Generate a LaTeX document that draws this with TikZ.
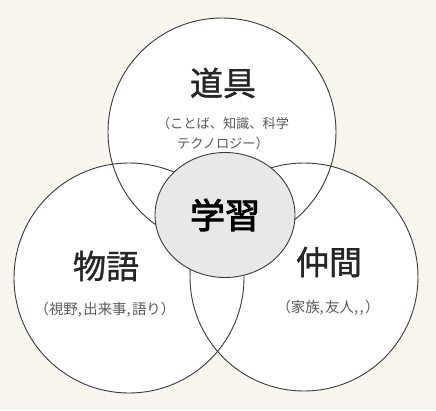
\documentclass[tikz,border=0pt]{standalone}
\usepackage{fontspec}
\newfontfamily\jp{Noto Sans CJK JP}
\newfontfamily\jphead{Noto Sans CJK JP}[FakeBold=1.2]
\newfontfamily\jphub{Noto Sans CJK JP}[FakeBold=2.6]
\usepackage{tikz}
\usetikzlibrary{shapes.geometric}
\definecolor{paper}{HTML}{F8F5EE}
\definecolor{hub}{HTML}{E8E8E8}
\definecolor{ink}{HTML}{3A3A3A}
\newcommand{\cm}{,\hspace{1.5pt}}
\begin{document}
\begin{tikzpicture}[x=1pt,y=-1pt]
            \tikzstyle{area}=[circle, fill=white, inner sep=0pt]
            \tikzstyle{rim}=[draw=ink, line width=0.9pt]
            \tikzstyle{hubnode}=[ellipse, fill=hub, draw=ink, line width=0.9pt, minimum width=140pt, minimum height=125pt, inner sep=0pt]
            \tikzstyle{title}=[text=black!85, font=\jphead\fontsize{33}{36}\selectfont]
            \tikzstyle{note}=[text=black!65, align=center, font=\jp\fontsize{13.2}{20}\selectfont]
            \fill[paper] (0,0) rectangle (436,410);
            \useasboundingbox (0,0) rectangle (436,410);

            \node[area, minimum size=228pt] (tool) at (222,132){};
            \node[area, minimum size=230pt] (story) at (129,278){};
            \node[area, minimum size=228pt] (peer) at (304,277){};
            \foreach \n/\r in {tool/114, story/115, peer/114}
                \draw[rim] (\n.center) circle[radius=\r];

            \node[hubnode] (learn) at (225,215){\jphub\fontsize{35}{40}\selectfont 学習};

            \node[title] (toolT) at (223,83){道具};
            \node[note] (toolN) at (223,133){（ことば、知識、科学\\テクノロジー）};
            \node[title] (storyT) at (106,266){物語};
            \node[note, font=\jp\fontsize{14.4}{20}\selectfont] (storyN) at (105,310){（視野\cm 出来事\cm 語り）};
            \node[title] (peerT) at (329,262){仲間};
            \node[note, font=\jp\fontsize{14.4}{20}\selectfont] (peerN) at (328,308){（家族\cm 友人\cm\cm）};

        \end{tikzpicture}
\end{document}
